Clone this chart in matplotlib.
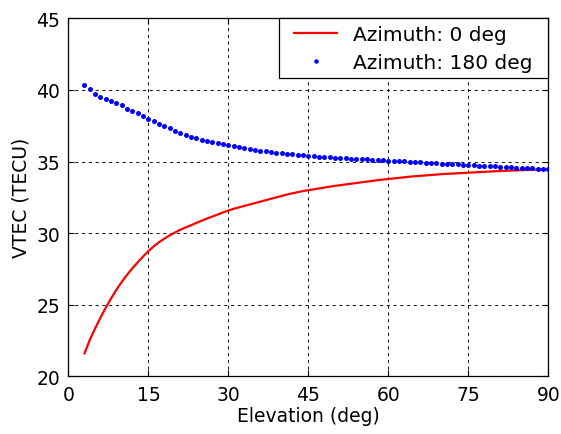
import matplotlib
matplotlib.use('Agg')
import matplotlib.pyplot as plt
from matplotlib.lines import Line2D
from matplotlib.legend_handler import HandlerLine2D
import numpy as np

# elevation angles in degrees, one sample per degree
elevation = np.arange(3, 91)

# VTEC along the 0 deg azimuth
vtec_az0 = [
    21.6, 22.55, 23.35, 24.1, 24.8, 25.45, 26.05, 26.6, 27.1, 27.55,
    27.97, 28.37, 28.75, 29.08, 29.37, 29.62, 29.85, 30.05, 30.24, 30.4,
    30.55, 30.72, 30.87, 31.02, 31.16, 31.3, 31.45, 31.58, 31.7, 31.8,
    31.9, 32.0, 32.1, 32.2, 32.3, 32.4, 32.5, 32.6, 32.7, 32.78,
    32.86, 32.94, 33.0, 33.06, 33.12, 33.18, 33.24, 33.3, 33.35, 33.4,
    33.45, 33.5, 33.55, 33.6, 33.65, 33.7, 33.74, 33.78, 33.82, 33.86,
    33.9, 33.94, 33.97, 34.0, 34.03, 34.06, 34.09, 34.12, 34.14, 34.16,
    34.18, 34.2, 34.22, 34.24, 34.26, 34.28, 34.3, 34.32, 34.34, 34.35,
    34.37, 34.38, 34.4, 34.41, 34.42, 34.43, 34.44, 34.45,
]

# VTEC along the 180 deg azimuth
vtec_az180 = [
    40.37, 40.05, 39.7, 39.51, 39.35, 39.21, 39.1, 38.94, 38.68, 38.52,
    38.36, 38.2, 37.99, 37.83, 37.64, 37.5, 37.36, 37.15, 37.01, 36.88,
    36.72, 36.62, 36.53, 36.46, 36.39, 36.32, 36.23, 36.16, 36.07, 36.0,
    35.93, 35.87, 35.82, 35.76, 35.71, 35.66, 35.62, 35.58, 35.54, 35.5,
    35.47, 35.44, 35.41, 35.38, 35.35, 35.32, 35.3, 35.28, 35.25, 35.23,
    35.21, 35.19, 35.17, 35.15, 35.13, 35.11, 35.09, 35.07, 35.05, 35.03,
    35.01, 34.98, 34.96, 34.94, 34.92, 34.9, 34.88, 34.86, 34.84, 34.82,
    34.8, 34.78, 34.76, 34.74, 34.72, 34.7, 34.68, 34.66, 34.64, 34.62,
    34.6, 34.58, 34.56, 34.54, 34.53, 34.51, 34.5, 34.49,
]

series_labels = ['Azimuth: 0 deg', 'Azimuth: 180 deg']
xticks = [0, 15, 30, 45, 60, 75, 90]
yticks = [20, 25, 30, 35, 40, 45]


def vtec_plot():
    plt.rcParams['font.family'] = ['DejaVu Sans']
    plt.rcParams['font.size'] = 13.5

    fig = plt.figure(figsize=(5.61, 4.35), dpi=100)
    ax = fig.add_axes([0.1221, 0.1326, 0.8553, 0.8230])

    ax.plot(elevation, vtec_az0, color=(1, 0, 0), lw=1.6, label=series_labels[0], zorder=3)
    ax.plot(elevation, vtec_az180, ls='none', marker='o', ms=3.6, mec='none',
            color=(0, 0, 1), label=series_labels[1], zorder=4)

    ax.set_xlim(0, 90)
    ax.set_ylim(20, 45)
    ax.set_xticks(xticks)
    ax.set_yticks(yticks)
    ax.tick_params(direction='in', length=4, width=0.8, top=True, right=True, pad=6)

    ax.grid(True, color='k', lw=0.75, ls=(0, (3, 3.5)), alpha=0.9)
    ax.set_axisbelow(True)
    for sp in ax.spines.values():
        sp.set_linewidth(0.9)

    ax.set_xlabel('Elevation (deg)', labelpad=2)
    ax.set_ylabel('VTEC (TECU)', labelpad=4)

    # legend box spans from x~0.44 of the axes to the right edge,
    # xpad pushes the sample line away from the left border
    leg = ax.legend(loc='upper right', bbox_to_anchor=(0.439, 0, 0.561, 1), mode='expand',
                    borderaxespad=0, fancybox=False, framealpha=1, fontsize=14.5,
                    edgecolor='k', numpoints=1, handlelength=2.55, handletextpad=0.8,
                    labelspacing=0.47, borderpad=0.31, markerscale=0.9,
                    handler_map={Line2D: HandlerLine2D(xpad=0.45)})
    leg.get_frame().set_linewidth(0.9)

    fig.savefig('out.png', dpi=100)


def main():
    vtec_plot()


if __name__ == "__main__":
    main()
